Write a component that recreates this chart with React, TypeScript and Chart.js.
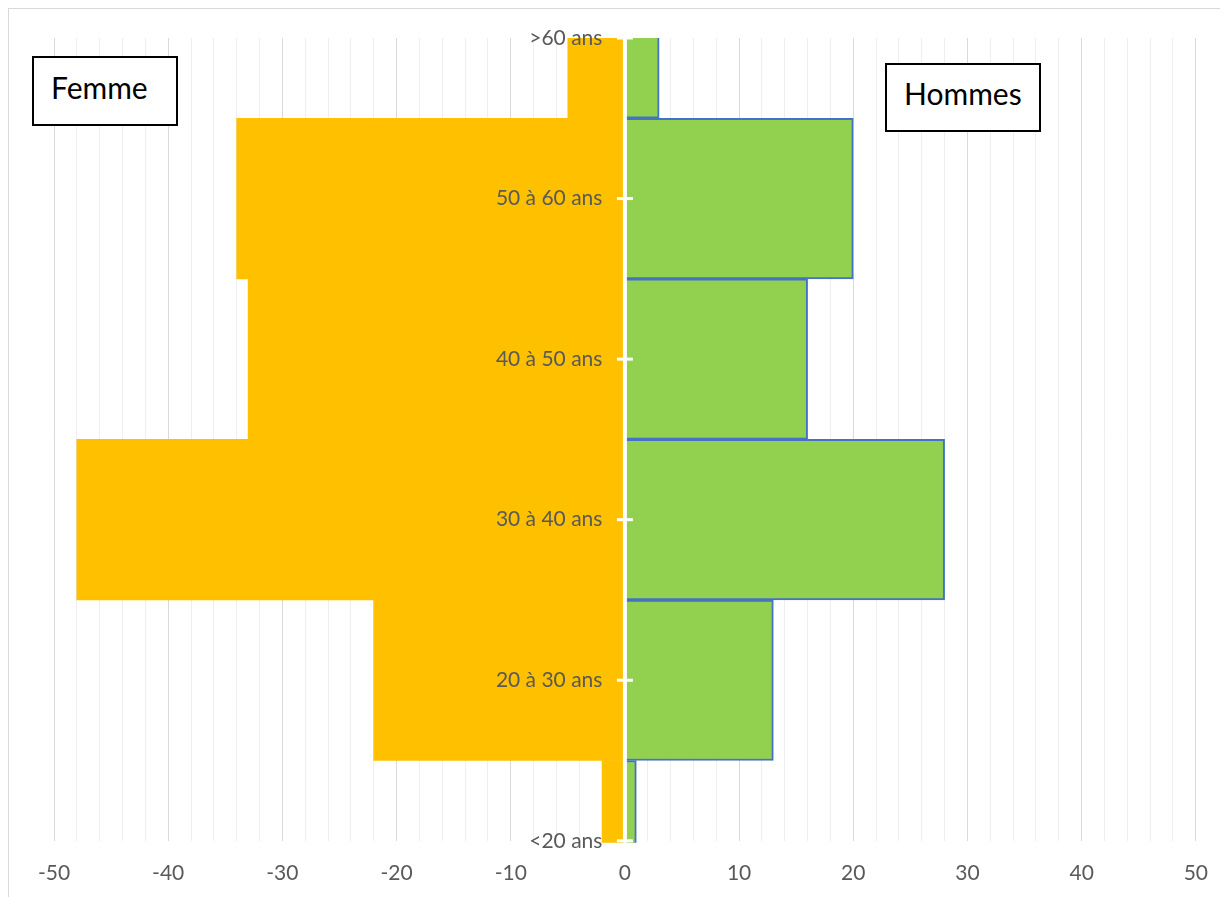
import React, { useEffect, useRef } from "react";
import { Chart, registerables } from "chart.js";

Chart.register(...registerables);

const ageGroups = [">60 ans", "50 à 60 ans", "40 à 50 ans", "30 à 40 ans", "20 à 30 ans", "<20 ans"];
const femmeValues = [-5, -34, -33, -48, -22, -2];
const hommesValues = [3, 20, 16, 28, 13, 1];
const xMin = -50;
const xMax = 50;
const minorStep = 2;
const majorStep = 10;
const labelGapValue = -1.97;

const FONT = "Lato, 'Open Sans', 'Liberation Sans', sans-serif";

const axisCross = {
  id: "axisCross",
  afterDatasetsDraw(chart: any) {
    const { ctx, chartArea, scales } = chart;
    const x0 = scales.x.getPixelForValue(0);
    ctx.save();
    ctx.strokeStyle = "#ffffff";
    ctx.lineWidth = 4;
    ctx.beginPath();
    ctx.moveTo(x0, chartArea.top);
    ctx.lineTo(x0, chartArea.bottom + 2);
    ctx.stroke();
    ctx.lineWidth = 3;
    scales.y.ticks.forEach((_t: any, i: number) => {
      const y = scales.y.getPixelForTick(i);
      ctx.beginPath();
      ctx.moveTo(x0 - 8, y);
      ctx.lineTo(x0 + 8, y);
      ctx.stroke();
    });
    ctx.restore();
  },
};

export default function App() {
  const ref = useRef<HTMLCanvasElement>(null);
  useEffect(() => {
    if (!ref.current) return;
    const chart = new Chart(ref.current, {
      type: "bar",
      data: {
        labels: ageGroups,
        datasets: [
          {
            label: "Femme",
            data: femmeValues,
            backgroundColor: "#FFC000",
            borderWidth: 0,
            barPercentage: 1,
            categoryPercentage: 1,
            clip: { left: false, right: false, top: 0, bottom: 2 } as any,
          },
          {
            label: "Hommes",
            data: hommesValues,
            backgroundColor: "#92D050",
            borderColor: "#4472C4",
            borderWidth: 2,
            barPercentage: 1,
            categoryPercentage: 1,
            clip: { left: false, right: false, top: 0, bottom: 2 } as any,
          },
        ],
      },
      options: {
        indexAxis: "y",
        animation: false,
        responsive: true,
        maintainAspectRatio: false,
        layout: { padding: { left: 45, right: 31, top: 29, bottom: -9 } },
        plugins: { legend: { display: false }, tooltip: { enabled: false } },
        scales: {
          x: {
            type: "linear",
            position: "bottom",
            min: xMin,
            max: xMax,
            stacked: true,
            border: { display: false },
            grid: {
              drawTicks: false,
              lineWidth: 1,
              color: (c: any) =>
                c.tick && c.tick.value % majorStep === 0 ? "#d9d9d9" : "#eeeeee",
            },
            ticks: {
              stepSize: minorStep,
              autoSkip: false,
              maxRotation: 0,
              padding: 20,
              color: "#595959",
              font: { family: FONT, size: 21 },
              callback: (v: any) => (Number(v) % majorStep === 0 ? String(v) : ""),
            },
          },
          y: {
            type: "category",
            position: { x: labelGapValue } as any,
            offset: false,
            stacked: true,
            border: { display: false },
            grid: { display: false, drawTicks: false },
            ticks: {
              z: 1,
              padding: 0,
              color: "#595959",
              font: { family: FONT, size: 21 },
              autoSkip: false,
            },
          },
        },
      },
      plugins: [axisCross],
    });
    return () => chart.destroy();
  }, []);

  const boxBase: React.CSSProperties = {
    position: "absolute",
    boxSizing: "border-box",
    border: "2px solid #000",
    background: "#fff",
    fontFamily: FONT,
    fontSize: 30,
    lineHeight: "30px",
    color: "#000",
    whiteSpace: "nowrap",
  };

  return (
    <div
      style={{
        width: 1220,
        height: 889,
        boxSizing: "border-box",
        borderTop: "1px solid #d9d9d9",
        borderLeft: "1px solid #d9d9d9",
      }}
    >
      <div style={{ position: "relative", width: 1219, height: 888 }}>
        <canvas ref={ref} />
        <div style={{ ...boxBase, left: 23, top: 47, width: 146, height: 70, padding: "14px 0 0 17px" }}>
          Femme
        </div>
        <div style={{ ...boxBase, left: 876, top: 54, width: 156, height: 69, padding: "13px 0 0 17px" }}>
          Hommes
        </div>
      </div>
    </div>
  );
}
